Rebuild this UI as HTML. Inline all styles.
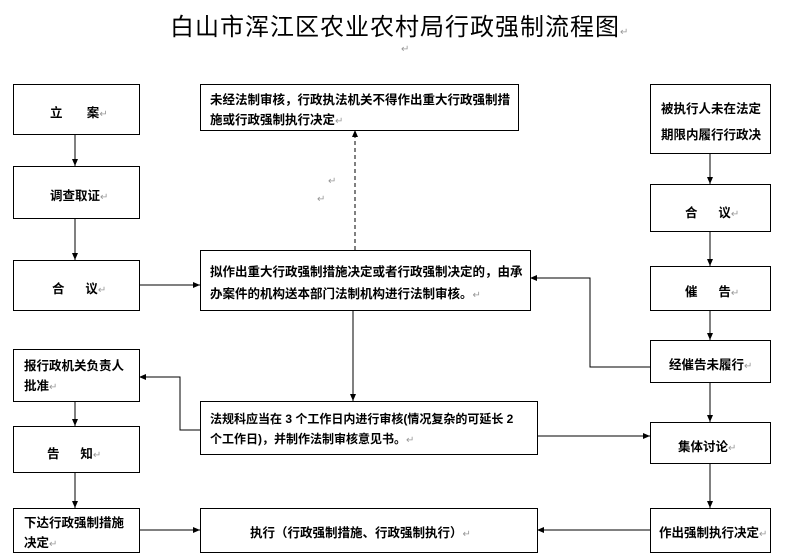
<!DOCTYPE html>
<html><head><meta charset="utf-8"><style>
body{margin:0;width:788px;height:558px;background:#fff;position:relative;overflow:hidden;font-family:"Liberation Sans","Noto Sans CJK SC",sans-serif;}
.b{position:absolute;border:1px solid #000;box-sizing:border-box;background:#fff;font-weight:bold;font-size:12.5px;color:#000;}
.t{position:absolute;white-space:nowrap;}
.r{color:#999;font-weight:normal;font-size:10px;}
svg{position:absolute;left:0;top:0;}
</style></head><body>
<div class="t" style="left:170px;top:7px;font-size:24px;letter-spacing:1px;">白山市浑江区农业农村局行政强制流程图<span class="r">↵</span></div>
<div class="t r" style="left:401px;top:44px;">↵</div>
<div class="t r" style="left:328px;top:176px;">↵</div>
<div class="t r" style="left:317px;top:194px;">↵</div>
<svg width="788" height="558">
<defs><marker id="a" markerWidth="8" markerHeight="8" refX="7" refY="4" orient="auto" markerUnits="userSpaceOnUse"><path d="M0,1 L7,4 L0,7z" fill="#000"/></marker></defs>
<g stroke="#000" stroke-width="1" fill="none" marker-end="url(#a)">
<line x1="75" y1="134" x2="75" y2="166"/>
<line x1="75" y1="218" x2="75" y2="260"/>
<line x1="75" y1="401" x2="75" y2="426"/>
<line x1="75" y1="472" x2="75" y2="508"/>
<line x1="139" y1="285" x2="200" y2="285"/>
<line x1="355" y1="250" x2="355" y2="130" stroke-dasharray="4,3"/>
<line x1="353" y1="310" x2="353" y2="401"/>
<polyline points="200,430 180,430 180,377 139,377"/>
<line x1="537" y1="436" x2="650" y2="436"/>
<polyline points="650,367 590,367 590,278 530,278"/>
<line x1="710" y1="153" x2="710" y2="184"/>
<line x1="710" y1="231" x2="710" y2="266"/>
<line x1="710" y1="310" x2="710" y2="340"/>
<line x1="710" y1="382" x2="710" y2="422"/>
<line x1="710" y1="463" x2="710" y2="508"/>
<line x1="650" y1="530" x2="537" y2="530"/>
<line x1="139" y1="530" x2="200" y2="530"/>
</g></svg>
<div class="b" style="left:13px;top:84px;width:127px;height:51px;"><span class="t" style="left:36px;top:17px;">立&nbsp;&nbsp;&nbsp;&nbsp;&nbsp;&nbsp;&nbsp;案<span class="r">↵</span></span></div>
<div class="b" style="left:13px;top:166px;width:127px;height:53px;"><span class="t" style="left:36px;top:18px;">调查取证<span class="r">↵</span></span></div>
<div class="b" style="left:13px;top:260px;width:127px;height:51px;"><span class="t" style="left:38px;top:17px;">合&nbsp;&nbsp;&nbsp;&nbsp;&nbsp;&nbsp;议<span class="r">↵</span></span></div>
<div class="b" style="left:13px;top:349px;width:127px;height:53px;"><span class="t" style="left:10px;top:6px;line-height:20px;">报行政机关负责人<br>批准<span class="r">↵</span></span></div>
<div class="b" style="left:13px;top:426px;width:127px;height:47px;"><span class="t" style="left:33px;top:16px;">告&nbsp;&nbsp;&nbsp;&nbsp;&nbsp;&nbsp;知<span class="r">↵</span></span></div>
<div class="b" style="left:13px;top:508px;width:127px;height:45px;"><span class="t" style="left:10px;top:4px;line-height:20px;">下达行政强制措施<br>决定<span class="r">↵</span></span></div>
<div class="b" style="left:200px;top:84px;width:319px;height:47px;"><span class="t" style="left:9px;top:5px;line-height:20px;">未经法制审核，行政执法机关不得作出重大行政强制措<br>施或行政强制执行决定<span class="r">↵</span></span></div>
<div class="b" style="left:200px;top:250px;width:331px;height:61px;"><span class="t" style="left:9px;top:10px;line-height:22px;">拟作出重大行政强制措施决定或者行政强制决定的，由承<br>办案件的机构送本部门法制机构进行法制审核。<span class="r">↵</span></span></div>
<div class="b" style="left:200px;top:401px;width:338px;height:54px;"><span class="t" style="left:9px;top:7px;line-height:20px;font-size:12px;">法规科应当在 3 个工作日内进行审核(情况复杂的可延长 2<br>个工作日)，并制作法制审核意见书。<span class="r">↵</span></span></div>
<div class="b" style="left:200px;top:508px;width:338px;height:45px;"><span class="t" style="left:49px;top:13px;">执行（行政强制措施、行政强制执行）<span class="r">↵</span></span></div>
<div class="b" style="left:650px;top:84px;width:121px;height:70px;"><span class="t" style="left:10px;top:11px;line-height:26px;">被执行人未在法定<br>期限内履行行政决</span></div>
<div class="b" style="left:650px;top:184px;width:121px;height:48px;"><span class="t" style="left:34px;top:17px;">合&nbsp;&nbsp;&nbsp;&nbsp;&nbsp;&nbsp;议<span class="r">↵</span></span></div>
<div class="b" style="left:650px;top:266px;width:121px;height:45px;"><span class="t" style="left:34px;top:14px;">催&nbsp;&nbsp;&nbsp;&nbsp;&nbsp;&nbsp;告<span class="r">↵</span></span></div>
<div class="b" style="left:650px;top:340px;width:121px;height:43px;"><span class="t" style="left:18px;top:13px;">经催告未履行<span class="r">↵</span></span></div>
<div class="b" style="left:650px;top:422px;width:121px;height:42px;"><span class="t" style="left:27px;top:13px;">集体讨论<span class="r">↵</span></span></div>
<div class="b" style="left:650px;top:508px;width:121px;height:45px;"><span class="t" style="left:8px;top:13px;">作出强制执行决定<span class="r">↵</span></span></div>
</body></html>
